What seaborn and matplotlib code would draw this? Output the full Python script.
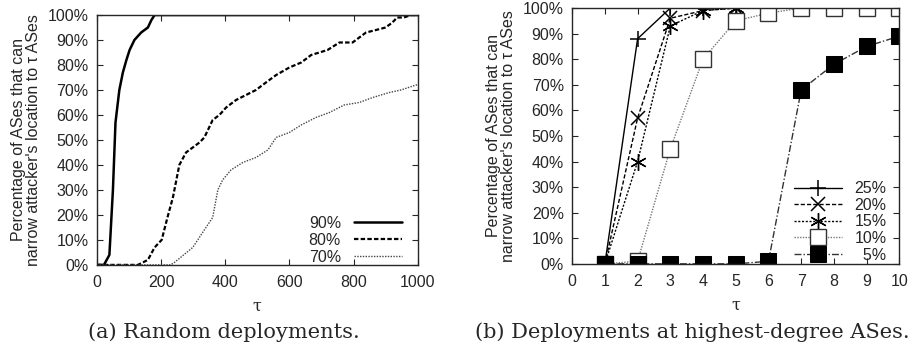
import numpy as np
import pandas as pd
import matplotlib
matplotlib.use("Agg")
import matplotlib.pyplot as plt
import seaborn as sns

# --- data: (a) random deployments ---
tau_90 = [0, 22, 39, 50, 58, 70, 81, 92, 102, 117, 138, 159, 170, 180, 1000]
pct_90 = [0, 0, 4, 30, 57, 70, 77, 82, 86, 90, 93, 95, 98, 100, 100]

tau_80 = [0, 128, 159, 180, 202, 220, 237, 257, 278, 320, 335, 361, 382, 403, 434, 465,
          496, 527, 559, 600, 637, 668, 719, 756, 797, 839, 870, 900, 921, 936, 957, 979, 1000]
pct_80 = [0, 0, 2, 7, 10, 19, 27, 40, 45, 49, 51, 58, 60, 63, 66, 68,
          70, 73, 76, 79, 81, 84, 86, 89, 89, 93, 94, 95, 97, 99, 99, 100, 100]

tau_70 = [0, 230, 242, 299, 335, 361, 377, 392, 418, 455, 496, 533, 559, 600, 637, 683,
          725, 771, 818, 860, 912, 948, 995, 1000]
pct_70 = [0, 0, 1, 7, 14, 19, 30, 34, 38, 41, 43, 46, 51, 53, 56, 59,
          61, 64, 65, 67, 69, 70, 72, 72]

# --- data: (b) highest-degree deployments ---
tau_b = [1, 2, 3, 4, 5, 6, 7, 8, 9, 10]
pct_25 = [0, 88, 100, 100, 100, 100, 100, 100, 100, 100]
pct_20 = [0, 57, 96, 99, 100, 100, 100, 100, 100, 100]
pct_15 = [0, 40, 93, 99, 100, 100, 100, 100, 100, 100]
pct_10 = [0, 1, 45, 80, 95, 98, 100, 100, 100, 100]
pct_5 = [0, 0, 0, 0, 0, 1, 68, 78, 85, 89]

sns.set_style("ticks")
plt.rcParams['font.family'] = ['Liberation Sans', 'DejaVu Sans']
plt.rcParams['xtick.direction'] = 'in'
plt.rcParams['ytick.direction'] = 'in'
plt.rcParams['xtick.top'] = True
plt.rcParams['ytick.right'] = True

fig = plt.figure(figsize=(9.14, 3.49), dpi=100)
ax1 = fig.add_axes([0.106, 0.241, 0.351, 0.716])
ax2 = fig.add_axes([0.626, 0.244, 0.358, 0.733])

fs = 11.5
ylab = "Percentage of ASes that can\nnarrow attacker's location to \u03c4 ASes"

# panel (a)
sns.lineplot(x=tau_90, y=pct_90, ax=ax1, color="black", lw=1.8, label="90%")
sns.lineplot(x=tau_80, y=pct_80, ax=ax1, color="black", lw=1.6, ls=(0, (2, 1)), label="80%")
sns.lineplot(x=tau_70, y=pct_70, ax=ax1, color="#444444", lw=1.0, ls=(0, (1, 1)), label="70%")
ax1.set_xlim(0, 1000)
ax1.set_ylim(0, 100)
ax1.set_xticks(range(0, 1001, 200))
ax1.set_yticks(range(0, 101, 10))
ax1.set_yticklabels([f"{v}%" for v in range(0, 101, 10)])
ax1.legend(loc="lower right", frameon=False, markerfirst=False, fontsize=fs,
           handlelength=3.0, labelspacing=0.12, borderaxespad=0.0,
           bbox_to_anchor=(0.97, -0.025))

# panel (b)
sns.lineplot(x=tau_b, y=pct_25, ax=ax2, color="black", lw=1.0, marker="+", ms=12, mew=1.1,
             mec="black", label="25%")
sns.lineplot(x=tau_b, y=pct_20, ax=ax2, color="black", lw=1.0, ls=(0, (3, 1.5)), marker="x", ms=10, mew=1.1,
             mec="black", label="20%")
sns.lineplot(x=tau_b, y=pct_15, ax=ax2, color="black", lw=1.0, ls=(0, (1.5, 1.2)), marker=(6, 2, 0), ms=12, mew=1.0,
             mec="black", label="15%")
sns.lineplot(x=tau_b, y=pct_10, ax=ax2, color="#777777", lw=1.0, ls=(0, (1, 1)), marker="s", ms=11,
             mfc="white", mec="#333333", mew=1.0, label="10%")
sns.lineplot(x=tau_b, y=pct_5, ax=ax2, color="#333333", lw=1.0, ls=(0, (5, 1.5, 1, 1.5)), marker="s", ms=12,
             mfc="black", mec="black", label="5%")
ax2.set_xlim(0, 10)
ax2.set_ylim(0, 100)
ax2.set_xticks(range(0, 11))
ax2.set_yticks(range(0, 101, 10))
ax2.set_yticklabels([f"{v}%" for v in range(0, 101, 10)])
leg2 = ax2.legend(loc="lower right", frameon=False, fontsize=fs, handlelength=3.0,
                  labelspacing=0.1, borderaxespad=0.0, bbox_to_anchor=(0.98, -0.02))
# right-align labels like gnuplot key
for t in leg2.get_texts():
    if len(t.get_text()) == 2:
        t.set_text("\u2007" + t.get_text())

for ax in (ax1, ax2):
    ax.set_xlabel("\u03c4", fontsize=fs, family="DejaVu Serif", labelpad=6)
    ax.set_ylabel(ylab, fontsize=fs, linespacing=0.95, labelpad=5)
    ax.tick_params(labelsize=fs, length=4, width=0.8)
    ax.tick_params(axis="x", pad=7)
    ax.tick_params(axis="y", pad=6)
    for s in ax.spines.values():
        s.set_linewidth(1.0)

fig.text(0.245, 0.02, "(a) Random deployments.", ha="center", va="bottom",
         fontsize=15, family="DejaVu Serif")
fig.text(0.758, 0.02, "(b) Deployments at highest-degree ASes.", ha="center", va="bottom",
         fontsize=15, family="DejaVu Serif")

fig.savefig("out.png", dpi=100)
